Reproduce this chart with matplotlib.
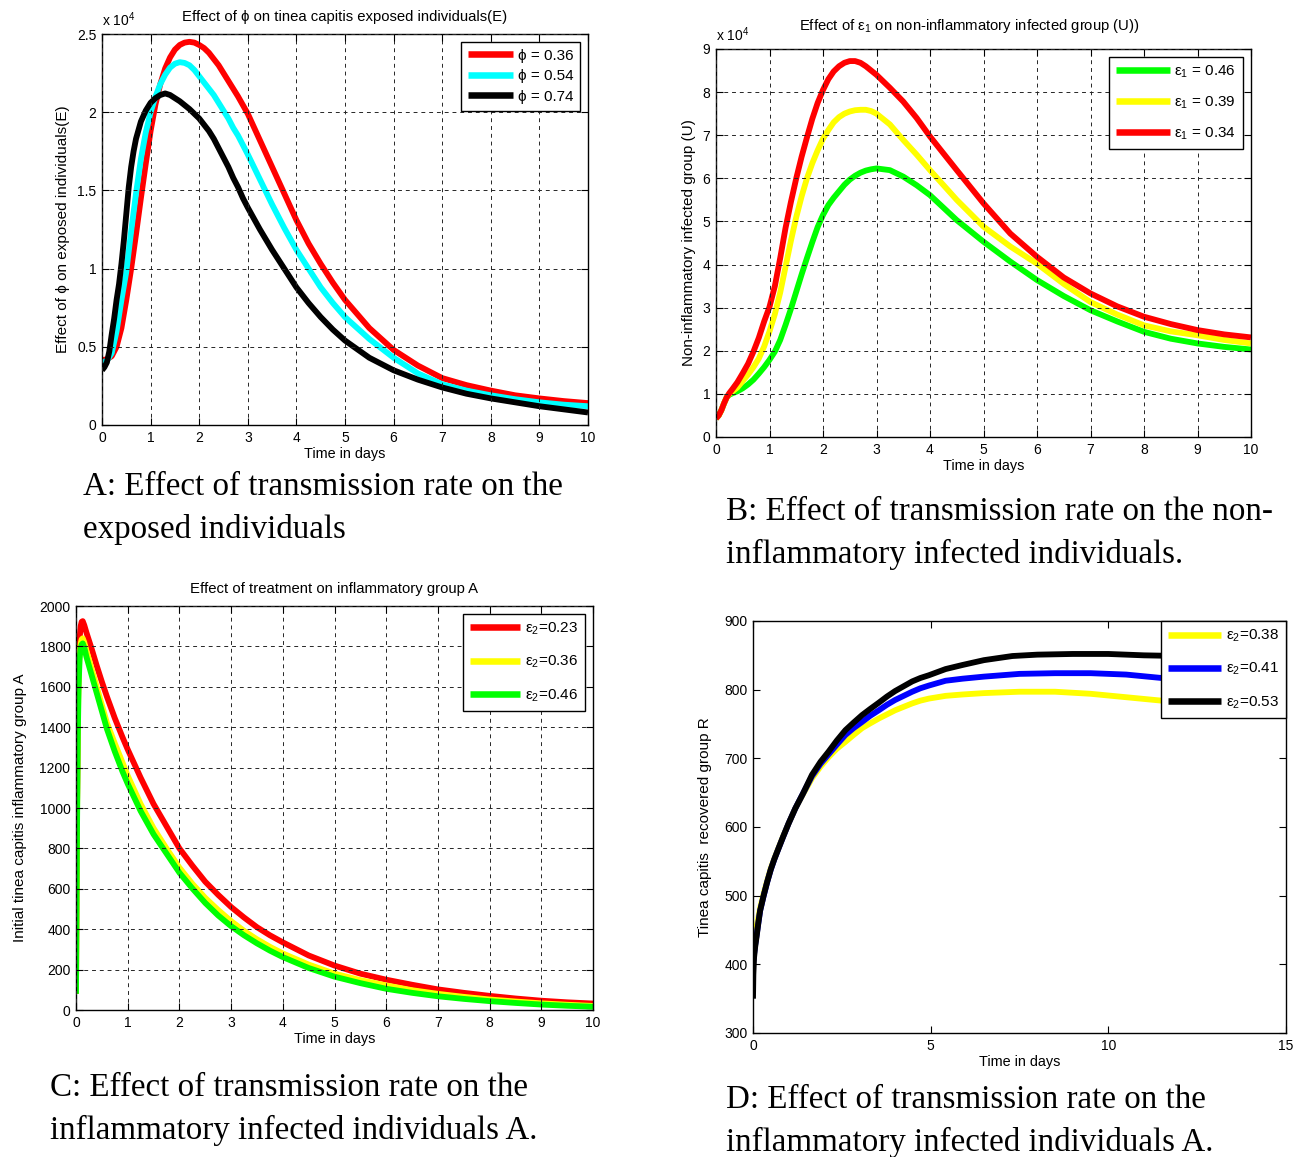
import matplotlib
matplotlib.use("Agg")
import matplotlib.pyplot as plt
from matplotlib.ticker import FuncFormatter, MultipleLocator

plt.rcParams['font.family'] = ['Liberation Sans', 'DejaVu Sans']
plt.rcParams['mathtext.fontset'] = 'custom'
plt.rcParams['mathtext.rm'] = 'Liberation Sans'
plt.rcParams['mathtext.it'] = 'Liberation Sans:italic'
plt.rcParams['font.size'] = 10

# ---------------- Panel A data (x 1e4) ----------------
a_t_red = [0, 0.1, 0.2, 0.3, 0.4, 0.5, 0.6, 0.7, 0.8, 0.9, 1.0, 1.1, 1.2, 1.3, 1.4, 1.5, 1.6, 1.7, 1.8, 1.9, 2.0,
           2.1, 2.2, 2.3, 2.4, 2.5, 2.6, 2.7, 2.8, 2.9, 3.0, 3.25, 3.5, 3.75, 4.0, 4.25, 4.5, 4.75, 5.0, 5.5, 6.0,
           6.5, 7.0, 7.5, 8.0, 8.5, 9.0, 9.5, 10.0]
a_red = [0.415, 0.42, 0.44, 0.50, 0.62, 0.80, 1.0, 1.22, 1.45, 1.67, 1.88, 2.05, 2.18, 2.28, 2.35, 2.40, 2.43,
         2.445, 2.45, 2.445, 2.43, 2.41, 2.38, 2.34, 2.30, 2.25, 2.20, 2.15, 2.10, 2.045, 1.99, 1.82, 1.65, 1.48,
         1.31, 1.16, 1.03, 0.91, 0.80, 0.62, 0.48, 0.38, 0.30, 0.255, 0.22, 0.19, 0.17, 0.153, 0.14]
a_t_cyan = [0, 0.1, 0.2, 0.3, 0.4, 0.5, 0.6, 0.7, 0.8, 0.9, 1.0, 1.1, 1.2, 1.3, 1.4, 1.5, 1.6, 1.7, 1.8, 1.9, 2.0,
            2.1, 2.2, 2.3, 2.4, 2.5, 2.6, 2.7, 2.8, 2.9, 3.0, 3.25, 3.5, 3.75, 4.0, 4.25, 4.5, 4.75, 5.0, 5.5, 6.0,
            6.5, 7.0, 7.5, 8.0, 8.5, 9.0, 9.5, 10.0]
a_cyan = [0.40, 0.41, 0.46, 0.6, 0.8, 0.98, 1.24, 1.48, 1.7, 1.87, 2.0, 2.1, 2.18, 2.24, 2.285, 2.31, 2.32, 2.315,
          2.30, 2.27, 2.23, 2.19, 2.15, 2.11, 2.06, 2.01, 1.96, 1.90, 1.85, 1.79, 1.73, 1.57, 1.41, 1.26, 1.12, 1.0,
          0.88, 0.78, 0.69, 0.55, 0.43, 0.33, 0.26, 0.22, 0.19, 0.165, 0.145, 0.13, 0.12]
a_t_black = [0, 0.05, 0.1, 0.15, 0.2, 0.25, 0.3, 0.35, 0.4, 0.45, 0.5, 0.55, 0.6, 0.65, 0.7, 0.8, 0.9, 1.0, 1.1,
             1.2, 1.3, 1.4, 1.5, 1.6, 1.7, 1.8, 1.9, 2.0, 2.1, 2.2, 2.3, 2.4, 2.5, 2.6, 2.7, 2.8, 2.9, 3.0, 3.25,
             3.5, 3.75, 4.0, 4.25, 4.5, 4.75, 5.0, 5.5, 6.0, 6.5, 7.0, 7.5, 8.0, 8.5, 9.0, 9.5, 10.0]
a_black = [0.35, 0.37, 0.40, 0.47, 0.58, 0.68, 0.80, 0.9, 1.03, 1.18, 1.35, 1.52, 1.65, 1.75, 1.83, 1.94, 2.01,
           2.06, 2.09, 2.11, 2.12, 2.11, 2.09, 2.07, 2.045, 2.02, 1.99, 1.96, 1.92, 1.88, 1.83, 1.77, 1.71, 1.65,
           1.58, 1.52, 1.45, 1.39, 1.25, 1.12, 1.0, 0.88, 0.78, 0.69, 0.61, 0.54, 0.43, 0.35, 0.29, 0.24, 0.2,
           0.17, 0.145, 0.12, 0.10, 0.08]
a_labels = ['ϕ = 0.36', 'ϕ = 0.54', 'ϕ = 0.74']

# ---------------- Panel B data (x 1e4) ----------------
b_t = [0, 0.05, 0.1, 0.15, 0.2, 0.25, 0.3, 0.4, 0.5, 0.6, 0.7, 0.8, 0.9, 1.0, 1.1, 1.2, 1.3, 1.4, 1.5, 1.6, 1.7,
       1.8, 1.9, 2.0, 2.1, 2.2, 2.3, 2.4, 2.5, 2.6, 2.7, 2.8, 2.9, 3.0, 3.25, 3.5, 3.75, 4.0, 4.5, 5.0, 5.5, 6.0,
       6.5, 7.0, 7.5, 8.0, 8.5, 9.0, 9.5, 10.0]
b_green = [0.43, 0.5, 0.62, 0.78, 0.92, 0.98, 1.01, 1.06, 1.13, 1.22, 1.33, 1.47, 1.62, 1.79, 1.98, 2.25, 2.6,
           2.97, 3.37, 3.77, 4.15, 4.52, 4.87, 5.15, 5.38, 5.55, 5.7, 5.85, 5.97, 6.06, 6.13, 6.18, 6.21, 6.23,
           6.19, 6.04, 5.84, 5.61, 5.03, 4.53, 4.07, 3.64, 3.27, 2.94, 2.68, 2.44, 2.28, 2.17, 2.09, 2.03]
b_yellow = [0.43, 0.5, 0.62, 0.78, 0.92, 1.0, 1.05, 1.15, 1.3, 1.45, 1.62, 1.82, 2.1, 2.45, 2.85, 3.35, 3.95,
            4.55, 5.1, 5.58, 6.0, 6.35, 6.65, 6.92, 7.12, 7.3, 7.42, 7.5, 7.55, 7.58, 7.59, 7.59, 7.56, 7.5, 7.25,
            6.89, 6.55, 6.19, 5.5, 4.88, 4.42, 4.02, 3.55, 3.13, 2.84, 2.59, 2.45, 2.36, 2.25, 2.17]
b_red = [0.43, 0.5, 0.62, 0.78, 0.92, 1.02, 1.1, 1.27, 1.48, 1.7, 1.98, 2.3, 2.68, 3.02, 3.5, 4.15, 4.85, 5.45,
         6.0, 6.5, 6.95, 7.38, 7.75, 8.05, 8.3, 8.48, 8.6, 8.68, 8.72, 8.72, 8.68, 8.6, 8.5, 8.4, 8.1, 7.78, 7.4,
         6.97, 6.19, 5.42, 4.72, 4.18, 3.7, 3.33, 3.03, 2.79, 2.62, 2.48, 2.38, 2.31]
b_labels = ['ε$_1$ = 0.46', 'ε$_1$ = 0.39', 'ε$_1$ = 0.34']

# ---------------- Panel C data ----------------
c_t = [0, 0.01, 0.02, 0.035, 0.05, 0.07, 0.09, 0.11, 0.13, 0.16, 0.2, 0.3, 0.4, 0.5, 0.6, 0.75, 0.9, 1.0, 1.25,
       1.5, 1.75, 2.0, 2.25, 2.5, 2.75, 3.0, 3.25, 3.5, 3.75, 4.0, 4.5, 5.0, 5.5, 6.0, 6.5, 7.0, 7.5, 8.0, 8.5,
       9.0, 9.5, 10.0]
c_red = [80, 600, 1000, 1450, 1700, 1840, 1900, 1922, 1925, 1905, 1870, 1790, 1705, 1625, 1550, 1445, 1350, 1290,
         1150, 1020, 910, 800, 715, 635, 570, 510, 458, 410, 370, 335, 270, 220, 180, 150, 125, 102, 85, 70, 57,
         46, 38, 32]
c_yellow = [80, 560, 950, 1400, 1650, 1770, 1815, 1835, 1840, 1820, 1780, 1690, 1600, 1510, 1420, 1320, 1225,
            1160, 1020, 900, 800, 705, 625, 555, 495, 440, 392, 350, 313, 280, 225, 180, 148, 122, 98, 80, 65, 52,
            42, 33, 26, 20]
c_green = [80, 520, 900, 1350, 1600, 1740, 1790, 1810, 1815, 1795, 1750, 1660, 1570, 1480, 1390, 1280, 1180, 1120,
           985, 870, 775, 680, 602, 530, 468, 415, 370, 330, 294, 262, 208, 165, 133, 105, 85, 68, 55, 44, 35, 27,
           21, 16]
c_labels = ['ε$_2$=0.23', 'ε$_2$=0.36', 'ε$_2$=0.46']

# ---------------- Panel D data ----------------
d_t_yb = [0, 0.03, 0.06, 0.1, 0.15, 0.2, 0.3, 0.4, 0.5, 0.6, 0.72, 0.85, 1.0, 1.19, 1.4, 1.66, 1.9, 2.13, 2.36,
          2.6, 2.83, 3.07, 3.3, 3.54, 3.77, 4.0, 4.24, 4.48, 4.71, 4.95, 5.42, 5.9, 6.5, 7.5, 8.5, 9.5, 10.5, 11.5,
          13.0, 14.0, 15.0]
d_yellow = [420, 430, 440, 455, 468, 482, 503, 522, 540, 554, 570, 587, 605, 627, 647, 671, 688, 702, 714, 724,
            734, 744, 751, 758, 764, 770, 775, 780, 784, 787, 791, 793, 795, 797, 797, 794, 789, 784, 777, 772, 768]
d_blue = [400, 415, 428, 442, 460, 478, 500, 520, 538, 553, 569, 586, 605, 627, 648, 674, 692, 706, 720, 734, 744,
          753, 762, 770, 778, 785, 791, 797, 802, 806, 813, 816, 819, 823, 824, 824, 822, 817, 810, 805, 800]
d_t_black = [0, 0.01, 0.03, 0.06, 0.1, 0.15, 0.2, 0.3, 0.4, 0.5, 0.6, 0.72, 0.85, 1.0, 1.19, 1.4, 1.66, 1.9, 2.13,
             2.36, 2.6, 2.83, 3.07, 3.3, 3.54, 3.77, 4.0, 4.24, 4.48, 4.71, 4.95, 5.42, 5.9, 6.5, 7.3, 8.0, 9.0,
             10.0, 11.0, 12.0, 13.0, 14.0, 15.0]
d_black = [350, 385, 410, 425, 440, 460, 478, 500, 520, 538, 553, 569, 586, 605, 627, 648, 676, 695, 710, 726, 741,
           752, 763, 772, 781, 790, 798, 805, 812, 817, 821, 830, 836, 843, 849, 851, 852, 852, 850, 849, 847, 845,
           843]
d_labels = ['ε$_2$=0.38', 'ε$_2$=0.41', 'ε$_2$=0.53']

W, H = 1308, 1157
fig = plt.figure(figsize=(W / 100, H / 100), dpi=100)


def ax_px(l, t, r, b):
    return fig.add_axes([l / W, 1 - b / H, (r - l) / W, (b - t) / H])


def style(ax, grid=True):
    ax.tick_params(direction='in', top=True, right=True, length=5, width=0.8, labelsize=10, pad=4)
    for s in ax.spines.values():
        s.set_linewidth(1.0)
        s.set_color('black')
    if grid:
        ax.grid(True, color='0.15', linestyle=(0, (4, 4)), linewidth=0.7)
    ax.set_axisbelow(False)


fmt = FuncFormatter(lambda v, p: '%g' % v)
LW = 4.2
TITLE_FS = 10.7
YL_FS = 11
XL_FS = 10.4
LEG_FS = 11


def draw(ax, x, y, color, label):
    ax.plot(x, y, color=color, lw=LW, label=label, solid_capstyle='butt', solid_joinstyle='round')


def legend(ax, labelspacing, handlelength, borderaxespad=0.52, anchor=None):
    kw = dict(loc='upper right', fontsize=LEG_FS, handlelength=handlelength, handletextpad=0.3,
              labelspacing=labelspacing, borderpad=0.45, borderaxespad=borderaxespad, fancybox=False,
              framealpha=1, edgecolor='black')
    if anchor is not None:
        kw['bbox_to_anchor'] = anchor
    lg = ax.legend(**kw)
    lg.get_frame().set_linewidth(1.0)
    for h in lg.get_lines():
        h.set_linewidth(LW + 0.5)
    return lg


# Panel A
axA = ax_px(102, 34, 588, 425)
draw(axA, a_t_red, a_red, '#ff0000', a_labels[0])
draw(axA, a_t_cyan, a_cyan, '#00ffff', a_labels[1])
draw(axA, a_t_black, a_black, 'black', a_labels[2])
axA.set_xlim(0, 10)
axA.set_ylim(0, 2.5)
axA.xaxis.set_major_locator(MultipleLocator(1))
axA.yaxis.set_major_locator(MultipleLocator(0.5))
axA.yaxis.set_major_formatter(fmt)
style(axA)
axA.set_title('Effect of ϕ on tinea capitis exposed individuals(E)', fontsize=TITLE_FS, pad=9)
axA.set_xlabel('Time in days', fontsize=XL_FS, labelpad=2)
axA.set_ylabel('Effect of ϕ on exposed individuals(E)', fontsize=YL_FS, labelpad=5)
axA.text(0, 1.012, 'x 10$^4$', transform=axA.transAxes, fontsize=10, ha='left', va='bottom')
legend(axA, 0.42, 2.95)

# Panel B
axB = ax_px(716, 49, 1251, 437)
draw(axB, b_t, b_green, '#00ff00', b_labels[0])
draw(axB, b_t, b_yellow, '#ffff00', b_labels[1])
draw(axB, b_t, b_red, '#ff0000', b_labels[2])
axB.set_xlim(0, 10)
axB.set_ylim(0, 9)
axB.xaxis.set_major_locator(MultipleLocator(1))
axB.yaxis.set_major_locator(MultipleLocator(1))
style(axB)
axB.set_title('Effect of ε$_1$ on non-inflammatory infected group (U))', fontsize=TITLE_FS, pad=14, x=0.473)
axB.set_xlabel('Time in days', fontsize=XL_FS, labelpad=2)
axB.set_ylabel('Non-inflammatory infected group (U)', fontsize=YL_FS, labelpad=5)
axB.text(0, 1.012, 'x 10$^4$', transform=axB.transAxes, fontsize=10, ha='left', va='bottom')
legend(axB, 0.95, 3.5)

# Panel C
axC = ax_px(76, 606, 593, 1010)
draw(axC, c_t, c_red, '#ff0000', c_labels[0])
draw(axC, c_t, c_yellow, '#ffff00', c_labels[1])
draw(axC, c_t, c_green, '#00ff00', c_labels[2])
axC.set_xlim(0, 10)
axC.set_ylim(0, 2000)
axC.xaxis.set_major_locator(MultipleLocator(1))
axC.yaxis.set_major_locator(MultipleLocator(200))
style(axC)
axC.set_title('Effect of treatment on inflammatory group A', fontsize=TITLE_FS, pad=9)
axC.set_xlabel('Time in days', fontsize=XL_FS, labelpad=2)
axC.set_ylabel('Initial tinea capitis inflammatory group A', fontsize=YL_FS, labelpad=9)
legend(axC, 1.1, 3.3)

# Panel D
axD = ax_px(753, 621, 1286, 1033)
draw(axD, d_t_yb, d_yellow, '#ffff00', d_labels[0])
draw(axD, d_t_yb, d_blue, '#0000ff', d_labels[1])
draw(axD, d_t_black, d_black, 'black', d_labels[2])
axD.set_xlim(0, 15)
axD.set_ylim(300, 900)
axD.xaxis.set_major_locator(MultipleLocator(5))
axD.yaxis.set_major_locator(MultipleLocator(100))
style(axD, grid=False)
axD.set_xlabel('Time in days', fontsize=XL_FS, labelpad=2)
axD.set_ylabel('Tinea capitis  recovered group R', fontsize=YL_FS, labelpad=9)
legend(axD, 1.1, 3.5, borderaxespad=0.0, anchor=(1.0, 1.0))

# Captions
serif = ['Liberation Serif', 'DejaVu Serif']
cap_size = 23.8
captions = [
    (83, 495, 'A: Effect of transmission rate on the'),
    (83, 538, 'exposed individuals'),
    (726, 520, 'B: Effect of transmission rate on the non-'),
    (726, 563, 'inflammatory infected individuals.'),
    (50, 1096, 'C: Effect of transmission rate on the'),
    (50, 1139, 'inflammatory infected individuals A.'),
    (726, 1108, 'D: Effect of transmission rate on the'),
    (726, 1151, 'inflammatory infected individuals A.'),
]
for x, y, s in captions:
    fig.text(x / W, 1 - y / H, s, family=serif, fontsize=cap_size, ha='left', va='baseline')

fig.savefig('out.png', dpi=100, facecolor='white')
